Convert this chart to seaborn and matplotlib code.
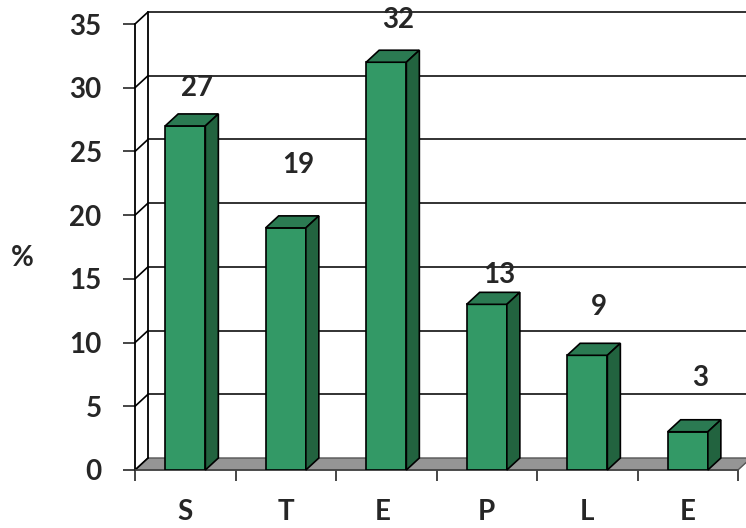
import matplotlib
matplotlib.use("Agg")
import matplotlib.pyplot as plt
import seaborn as sns
import pandas as pd
from matplotlib.patches import Polygon

# chart data
categories = ["S", "T", "E ", "P", "L", "E"]
values = [27, 19, 32, 13, 9, 3]
label_y = [30.0, 23.9, 35.3, 15.3, 12.8, 7.2]

sns.set_style("white")
plt.rcParams["font.family"] = ["Lato", "DejaVu Sans"]
plt.rcParams["font.weight"] = "bold"

front_col = "#339966"
side_col = "#22633f"
top_col = "#2b7a52"
floor_col = "#959595"
fs = 20

df = pd.DataFrame({"cat": categories, "val": values})

fig = plt.figure(figsize=(7.46, 5.28), dpi=100)
ax = fig.add_axes([135 / 746, 1 - 470 / 528, (738 - 135) / 746, (470 - 24) / 528])

sns.barplot(data=df, x="cat", y="val", color=front_col, width=0.4,
            saturation=1, edgecolor="black", linewidth=1.2, ax=ax, zorder=5)

ax.set_xlim(-0.5, len(categories) - 0.5)
ax.set_ylim(0, 35)

# depth of the fake 3D effect in data units
dx = 13 / 100.5
dy = 12 / 12.74
n = len(categories)

# floor
floor = Polygon([(-0.5, 0), (n - 0.5, 0), (n - 0.5 + dx, dy), (-0.5 + dx, dy)],
                closed=True, facecolor=floor_col, edgecolor="#555555",
                linewidth=1, zorder=2, clip_on=False)
ax.add_patch(floor)

# back wall gridlines and the little connectors on the left
yticks = list(range(0, 36, 5))
for t in yticks:
    if t > 0:
        ax.plot([-0.5 + dx, n + 1], [t + dy, t + dy], color="#222222",
                lw=1.3, zorder=1, clip_on=False)
    ax.plot([-0.5, -0.5 + dx], [t, t + dy], color="black", lw=1.2,
            zorder=3, clip_on=False)
ax.plot([-0.5 + dx, -0.5 + dx], [dy, 35 + dy], color="black", lw=1.3,
        zorder=3, clip_on=False)

# top and side faces of each bar
for p in ax.patches:
    if not hasattr(p, "get_width") or p is floor:
        continue
    x0, w, h = p.get_x(), p.get_width(), p.get_height()
    top = Polygon([(x0, h), (x0 + w, h), (x0 + w + dx, h + dy), (x0 + dx, h + dy)],
                  closed=True, facecolor=top_col, edgecolor="black", lw=1.2,
                  zorder=6, clip_on=False)
    side = Polygon([(x0 + w, 0), (x0 + w + dx, dy), (x0 + w + dx, h + dy), (x0 + w, h)],
                   closed=True, facecolor=side_col, edgecolor="black", lw=1.2,
                   zorder=6, clip_on=False)
    ax.add_patch(top)
    ax.add_patch(side)

# value labels
for i, (v, ly) in enumerate(zip(values, label_y)):
    ax.text(i + 0.12, ly, str(v), ha="center", va="center",
            fontsize=fs, fontweight="bold", zorder=7, clip_on=False)

sns.despine(ax=ax, top=True, right=True, bottom=True, left=False)
ax.spines["left"].set_linewidth(1.3)
ax.spines["left"].set_color("black")

ax.set_yticks(yticks)
ax.set_yticklabels([str(t) for t in yticks], fontsize=fs, fontweight="bold")
ax.tick_params(axis="y", direction="out", length=9, width=1.2, pad=15, left=True)

ax.set_xticks([i - 0.5 for i in range(n + 1)])
ax.set_xticklabels([])
ax.set_xticks(range(n), minor=True)
ax.set_xticklabels(categories, minor=True, fontsize=fs, fontweight="bold")
ax.tick_params(axis="x", which="major", direction="out", length=8, width=1.2, bottom=True)
ax.tick_params(axis="x", which="minor", length=0, pad=21)
ax.plot([-0.5, n - 0.5], [0, 0], color="#444444", lw=1.2, zorder=3, clip_on=False)

ax.set_xlabel("")
ax.set_ylabel("")
fig.text(22 / 746, 1 - 258 / 528, "%", ha="center", va="center",
         fontsize=fs, fontweight="bold")

fig.savefig("out.png", dpi=100)
